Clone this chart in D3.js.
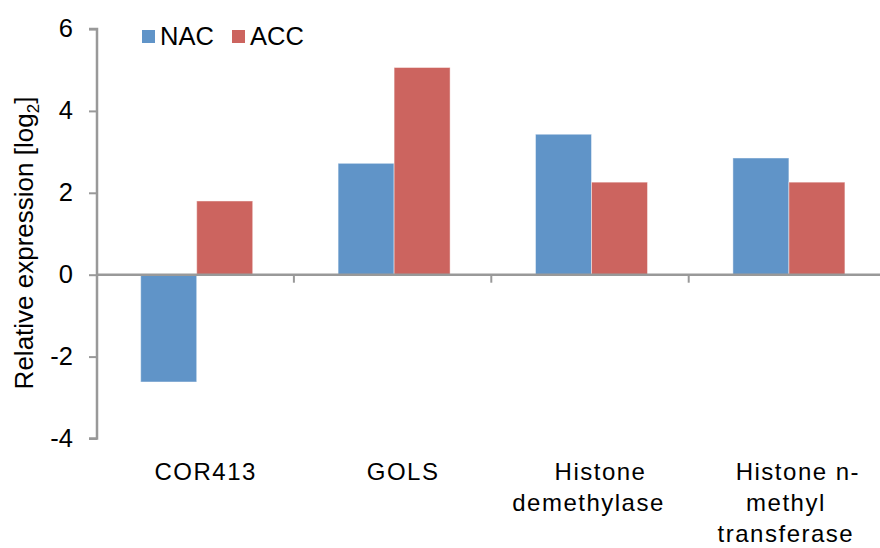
<!DOCTYPE html>
<html>
<head>
<meta charset="utf-8">
<script src="https://cdn.jsdelivr.net/npm/d3@7"></script>
<style>
  html, body { margin: 0; padding: 0; background: #fff; }
  svg { display: block; font-family: "Liberation Sans", Arial, sans-serif; }
</style>
</head>
<body>
<svg id="chart" width="880" height="548"></svg>
<script>
// Gene names, one entry per group; label lines as they wrap under the axis
const categories = ["COR413", "GOLS", "Histone demethylase", "Histone n-methyl transferase"];
const categoryLines = [["COR413"], ["GOLS"], ["Histone", "demethylase"], ["Histone n-", "methyl", "transferase"]];
// Relative expression (log2) per treatment
const seriesNames = ["NAC", "ACC"];
const nacValues = [-2.62, 2.72, 3.43, 2.85];
const accValues = [1.80, 5.06, 2.26, 2.26];
const yTicks = [-4, -2, 0, 2, 4, 6];

const colors = { NAC: "#6094c8", ACC: "#cc645f" };
const axisColor = "#999999";

const svg = d3.select("#chart");

const axisX = 97;
const y = d3.scaleLinear().domain([-4, 6]).range([438.5, 29]);

const x0 = d3.scaleBand()
  .domain(categories)
  .range([98, 887.6])
  .paddingInner(0.4326)
  .paddingOuter(0.2163);

const x1 = d3.scaleBand()
  .domain(seriesNames)
  .range([0, x0.bandwidth()]);

const rows = categories.map((c, i) => ({
  cat: c,
  lines: categoryLines[i],
  values: [
    { key: "NAC", value: nacValues[i] },
    { key: "ACC", value: accValues[i] }
  ]
}));

// Bars
const groups = svg.append("g")
  .selectAll("g")
  .data(rows)
  .join("g")
  .attr("transform", d => `translate(${x0(d.cat)},0)`);

groups.selectAll("rect")
  .data(d => d.values)
  .join("rect")
  .attr("x", d => x1(d.key))
  .attr("width", x1.bandwidth())
  .attr("y", d => y(Math.max(0, d.value)))
  .attr("height", d => Math.abs(y(d.value) - y(0)))
  .attr("fill", d => colors[d.key])
  .attr("stroke", "rgba(255,255,255,0.45)")
  .attr("stroke-width", 1);

// Y axis
const yAxis = svg.append("g")
  .attr("transform", `translate(${axisX},0)`)
  .call(d3.axisLeft(y).tickValues(yTicks).tickSize(8).tickPadding(16).tickFormat(d => String(d)));
yAxis.select(".domain").attr("stroke", axisColor).attr("stroke-width", 2.5)
  .attr("d", `M-8,${y(6)}H0V${y(-4)}H-8`);
yAxis.selectAll(".tick line").attr("stroke", axisColor).attr("stroke-width", 2);
yAxis.selectAll(".tick text")
  .attr("fill", "#000")
  .attr("dy", "0.3em")
  .style("font-size", "25.5px");

// Zero baseline with category separators
const step = x0.step();
const xStart = x0.range()[0];
svg.append("line")
  .attr("x1", axisX).attr("x2", 880)
  .attr("y1", y(0)).attr("y2", y(0))
  .attr("stroke", axisColor).attr("stroke-width", 2.5);
svg.append("g")
  .selectAll("line")
  .data(d3.range(1, categories.length + 1))
  .join("line")
  .attr("x1", i => xStart + i * step - 1.5)
  .attr("x2", i => xStart + i * step - 1.5)
  .attr("y1", y(0))
  .attr("y2", y(0) + 8)
  .attr("stroke", axisColor).attr("stroke-width", 2);

// Category labels
const labelG = svg.append("g")
  .selectAll("text")
  .data(rows)
  .join("text")
  .attr("text-anchor", "middle")
  .attr("fill", "#000")
  .style("font-size", "24px")
  .style("letter-spacing", "1.5px");
labelG.selectAll("tspan")
  .data(d => d.lines.map((l, j) => ({ l, j, cx: x0(d.cat) + x0.bandwidth() / 2 })))
  .join("tspan")
  .attr("x", d => d.cx + (d.j === 0 ? 9 : -3))
  .attr("y", d => 479.5 + d.j * 31)
  .text(d => d.l);

// Y axis title
const title = svg.append("text")
  .attr("transform", "translate(33,243) rotate(-90)")
  .attr("text-anchor", "middle")
  .attr("fill", "#000")
  .style("font-size", "26px");
title.append("tspan").text("Relative expression [log");
title.append("tspan").attr("dy", 6).style("font-size", "17px").text("2");
title.append("tspan").attr("dy", -6).text("]");

// Legend
const legend = svg.append("g")
  .selectAll("g")
  .data(seriesNames)
  .join("g")
  .attr("transform", (d, i) => `translate(${[142, 232][i]},0)`);
legend.append("rect")
  .attr("x", 0).attr("y", 30)
  .attr("width", 13).attr("height", 13)
  .attr("fill", d => colors[d]);
legend.append("text")
  .attr("x", 18).attr("y", 45)
  .attr("fill", "#000")
  .style("font-size", "25.5px")
  .text(d => d);
</script>
</body>
</html>
